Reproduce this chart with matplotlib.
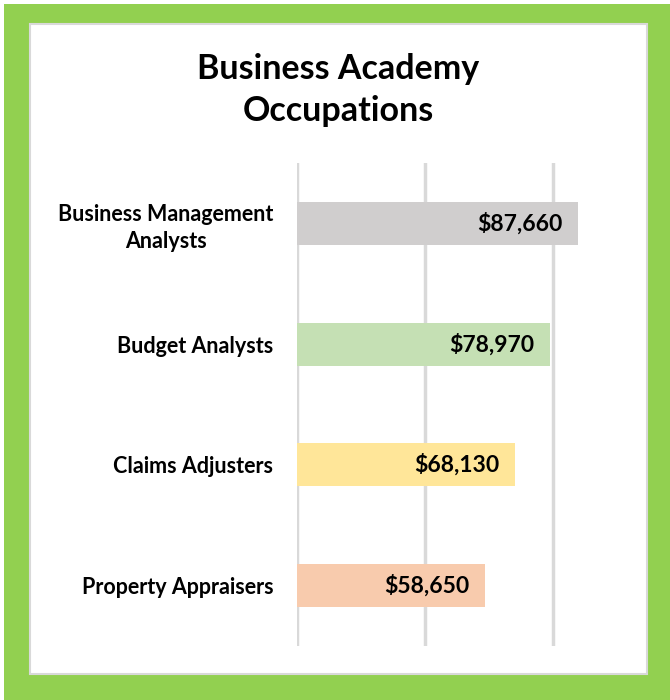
import matplotlib
matplotlib.use("Agg")
import matplotlib.pyplot as plt
from matplotlib.patches import Rectangle

categories = ["Business Management\nAnalysts", "Budget Analysts", "Claims Adjusters", "Property Appraisers"]
values = [87660, 78970, 68130, 58650]
colors = ["#D0CECE", "#C5E0B4", "#FFE699", "#F8CBAD"]
title = "Business Academy\nOccupations"

plt.rcParams['font.family'] = ['Lato', 'DejaVu Sans']

W, H = 670, 700
fig = plt.figure(figsize=(W/100, H/100), dpi=100)
fig.patch.set_facecolor("white")

# green frame
fig.add_artist(Rectangle((4/W, 0), 1 - 4/W, 1 - 4/H, transform=fig.transFigure,
                         facecolor="#92D050", edgecolor="none", zorder=0))
fig.add_artist(Rectangle((30/W, (H-674)/H), (647-30)/W, (674-24)/H, transform=fig.transFigure,
                         facecolor="white", edgecolor="#D9D9D9", linewidth=1.5, zorder=1))

# axes: x 297 -> 617 px, y 163 -> 646 px
ax = fig.add_axes([297/W, (H-646)/H, 320/W, (646-163)/H])
ax.set_facecolor("none")
ax.set_zorder(2)
y = list(range(len(categories)))
ax.barh(y, values, height=0.355, color=colors, zorder=3)
ax.set_xlim(0, 100000)
ax.set_ylim(len(categories) - 0.5, -0.5)
ax.set_xticks([0, 40000, 80000])
ax.xaxis.grid(True, color="#D9D9D9", linewidth=2.5, zorder=0)
ax.tick_params(axis="x", length=0, labelbottom=False)
ax.tick_params(axis="y", length=0, pad=17)
ax.set_yticks(y)
ax.set_yticklabels(categories, fontsize=15.5, fontweight="bold", color="black")
for lbl in ax.get_yticklabels():
    lbl.set_multialignment("center")
    lbl.set_linespacing(1.35)
for s in ax.spines.values():
    s.set_visible(False)

for yi, v in zip(y, values):
    ax.annotate(f"${v:,}", (v, yi), xytext=(-11, 0), textcoords="offset points",
                ha="right", va="center", fontsize=16.5, fontweight="bold", color="black", zorder=4)

fig.text(338/W, 1 - 90/H, title, ha="center", va="center", fontsize=24.5,
         fontweight="bold", color="black", linespacing=1.4, zorder=3)

fig.savefig("out.png", dpi=100)
